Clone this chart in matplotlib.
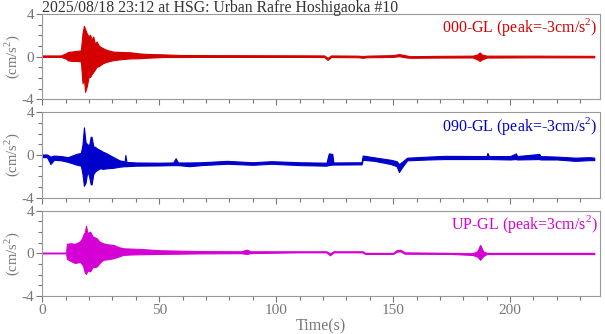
import numpy as np
import matplotlib
matplotlib.use("Agg")
import matplotlib.pyplot as plt
from matplotlib.ticker import MultipleLocator

plt.rcParams['font.family'] = ['Liberation Serif', 'DejaVu Serif']
plt.rcParams['mathtext.fontset'] = 'custom'
plt.rcParams['mathtext.rm'] = 'Liberation Serif'
plt.rcParams['axes.unicode_minus'] = False

title = "2025/08/18 23:12 at HSG: Urban Rafre Hoshigaoka #10"
ylabel = r"(cm/s$^{\mathrm{2}}$)"
xlabel = "Time(s)"

# envelope of each trace (time in s, cm/s^2)
ns_t = [0, 8, 10.3, 11, 13, 15, 16.5, 17.2, 17.8, 18.3, 19.0, 19.8, 20.4, 21.2, 21.8,
        22.5, 23.2, 24.0, 24.7, 26.0, 27.5, 30.4, 33.0, 37.5, 41.0, 44.6, 51.7, 58.9,
        70, 90, 110, 120.5, 122, 123.5, 135, 137, 139, 150, 152.5, 155, 157, 170, 184,
        186, 187, 188, 190, 210, 236]
ns_hi = [0.12, 0.12, 0.35, 0.45, 0.5, 0.55, 0.6, 2.2, 2.9, 2.6, 2.2, 1.9, 2.07, 1.6, 1.9,
         1.2, 1.43, 1.1, 0.95, 0.8, 0.64, 0.48, 0.45, 0.42, 0.32, 0.26, 0.22, 0.16,
         0.15, 0.14, 0.13, 0.12, -0.1, 0.12, 0.1, 0.05, 0.1, 0.15, 0.25, 0.15, 0.05, 0.08, 0.1,
         0.2, 0.4, 0.2, 0.1, 0.1, 0.08]
ns_lo = [-0.02, -0.02, -0.2, -0.35, -0.4, -0.4, -0.45, -2.5, -2.0, -3.3, -2.8, -1.9, -1.9, -1.6, -1.43,
         -1.2, -0.95, -0.9, -0.8, -0.6, -0.48, -0.32, -0.25, -0.16, -0.15, -0.1, -0.03, -0.03,
         -0.02, -0.02, -0.02, -0.03, -0.3, -0.03, -0.05, -0.1, -0.05, -0.02, 0.05, -0.05, -0.1, -0.08, -0.07,
         -0.25, -0.4, -0.25, -0.08, -0.06, -0.06]

ew_t = [0, 2, 3.5, 5, 8, 11, 14.5, 16.5, 17.2, 17.8, 18.5, 19.3, 20.0, 20.7, 21.1, 21.8,
        22.5, 23.5, 24.7, 26, 27.5, 30.4, 33, 35.2, 35.5, 36, 40, 50, 56, 57, 58, 63, 68,
        79, 90, 98, 110, 121.5, 122.5, 124, 124.5, 136.5, 137, 142, 149, 151.5, 152.5,
        153.5, 156, 165, 172, 190, 190.3, 191, 200, 202.5, 203, 212.5, 213, 220, 228, 234, 236]
ew_hi = [0.05, 0.05, -0.15, -0.05, -0.1, -0.2, 0.1, 0.2, 1.0, 2.6, 1.2, 1.0, 0.9, 1.72, 1.7, 0.8,
         0.78, 0.6, 0.47, 0.3, 0.16, -0.2, -0.5, -0.6, 0.0, -0.65, -0.7, -0.72, -0.7, -0.3, -0.7, -0.7, -0.68,
         -0.55, -0.68, -0.58, -0.68, -0.72, 0.15, 0.1, -0.7, -0.68, -0.05, -0.22, -0.45, -0.58, -0.85,
         -0.7, -0.25, -0.15, -0.08, -0.1, 0.2, -0.1, -0.1, 0.15, -0.1, 0.1, -0.1, -0.15, -0.25, -0.2, -0.25]
ew_lo = [-0.2, -0.2, -0.85, -0.45, -0.5, -0.65, -0.9, -1.0, -1.8, -2.9, -2.6, -1.5, -2.0, -2.75, -2.75, -1.8,
         -1.56, -1.4, -1.25, -1.3, -1.25, -1.2, -1.1, -1.05, -1.05, -1.05, -1.0, -0.98, -0.95, -0.95, -0.95, -1.05, -0.95,
         -0.82, -0.92, -0.82, -0.95, -1.0, -0.95, -0.9, -0.9, -0.88, -0.45, -0.55, -0.85, -1.05, -1.6,
         -1.25, -0.5, -0.42, -0.38, -0.38, -0.38, -0.38, -0.42, -0.38, -0.42, -0.38, -0.42, -0.42, -0.55, -0.48, -0.48]

ud_t = [0, 10.2, 10.5, 12, 14, 16, 17.0, 17.5, 18.2, 18.7, 19.3, 20.4, 21.5, 23.2, 24.5,
        26, 28, 30.4, 32.5, 34.6, 38, 41.7, 50, 67, 85, 87.4, 89, 110, 121.5, 123, 124.5,
        137, 138, 150, 151.5, 153, 155, 175, 184, 186, 187.2, 188.5, 190, 236]
ud_hi = [0.08, 0.08, 0.9, 0.95, 0.9, 1.1, 1.4, 1.74, 2.0, 2.6, 1.9, 2.05, 1.6, 1.43, 1.1,
         0.95, 0.85, 0.8, 0.6, 0.48, 0.45, 0.42, 0.3, 0.22, 0.2, 0.35, 0.2, 0.2, 0.2, 0.0, 0.2,
         0.2, 0.05, 0.05, 0.3, 0.35, 0.1, 0.05, 0.02, 0.2, 0.8, 0.2, 0.05, 0.05]
ud_lo = [0.0, 0.0, -0.5, -0.7, -0.9, -0.8, -1.0, -1.24, -1.8, -1.93, -1.6, -1.7, -1.3, -1.24, -0.9,
         -0.6, -0.55, -0.45, -0.3, -0.14, -0.1, -0.08, -0.05, 0.0, 0.02, -0.05, 0.03, 0.1, 0.1, -0.18, 0.1,
         0.1, -0.05, -0.05, 0.15, 0.2, -0.03, -0.05, -0.15, -0.3, -0.6, -0.25, -0.06, -0.06]

names = ["000-GL (peak=-3cm/s$^{\\mathrm{2}}$)",
         "090-GL (peak=-3cm/s$^{\\mathrm{2}}$)",
         "UP-GL (peak=3cm/s$^{\\mathrm{2}}$)"]
colors = ["#d40000", "#0000cc", "#d400d4"]
traces = [(ns_t, ns_hi, ns_lo), (ew_t, ew_hi, ew_lo), (ud_t, ud_hi, ud_lo)]

fig = plt.figure(figsize=(6.05, 3.34), dpi=100)
left, width, h = 0.0699, 0.922, 0.255
bottoms = [0.7027, 0.4084, 0.1138]
grey = "#777777"

for i, ((t, hi, lo), name, c) in enumerate(zip(traces, names, colors)):
    ax = fig.add_axes([left, bottoms[i], width, h])
    ax.fill_between(t, lo, hi, color=c, lw=0.8)
    ax.set_xlim(0, 238.5)
    ax.set_ylim(-4, 4)
    ax.set_yticks([-4, 0, 4])
    ax.yaxis.set_minor_locator(MultipleLocator(1))
    ax.xaxis.set_major_locator(MultipleLocator(50))
    ax.xaxis.set_minor_locator(MultipleLocator(10))
    ax.tick_params(which='both', direction='out', colors=grey, labelcolor=grey,
                   labelsize=11, top=False, right=False)
    ax.tick_params(which='major', length=4, width=0.8, pad=2)
    ax.tick_params(which='minor', length=3, width=0.8)
    for s in ax.spines.values():
        s.set_color("#999999")
        s.set_linewidth(0.8)
    ax.set_ylabel(ylabel, color=grey, fontsize=10.5)
    ax.yaxis.set_label_coords(-0.037, 0.5)
    ax.text(0.995, 0.975, name, transform=ax.transAxes, ha='right', va='top',
            color=c, fontsize=11.5)
    if i < 2:
        ax.tick_params(labelbottom=False)
    else:
        ax.set_xlabel(xlabel, color=grey, fontsize=11.5, labelpad=1)
    if i == 0:
        ax.text(0.0, 1.029, title, transform=ax.transAxes, ha='left', va='baseline',
                fontsize=11.3, color="#333333")

fig.savefig("out.png", dpi=100)
